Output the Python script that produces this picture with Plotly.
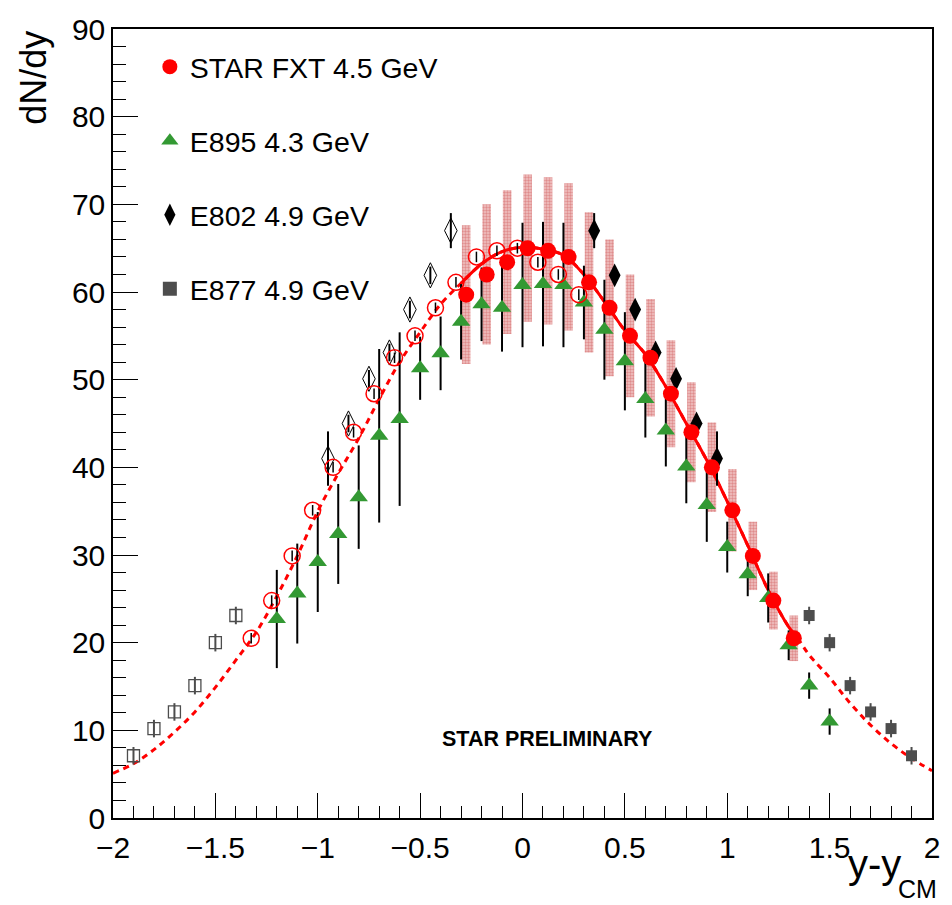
import plotly.graph_objects as go

# ---------------- data ----------------
star_x = [-0.275, -0.175, -0.075, 0.025, 0.125, 0.225, 0.325, 0.425, 0.525,
          0.625, 0.725, 0.825, 0.925, 1.025, 1.125, 1.225, 1.325]
star_y = [59.7, 62.0, 63.4, 65.0, 64.7, 64.0, 61.1, 58.2, 55.0,
          52.5, 48.4, 44.0, 40.0, 35.1, 29.9, 24.8, 20.5]
star_stat = [0.6, 0.6, 0.6, 0.6, 0.6, 0.6, 0.6, 0.6, 0.6,
             0.6, 0.6, 0.6, 0.6, 0.6, 0.6, 0.6, 0.6]
star_sys = [7.9, 8.0, 8.2, 8.4, 8.4, 8.4, 8.0, 7.8, 7.0,
            6.7, 6.1, 5.7, 5.1, 4.7, 3.9, 3.3, 2.6]

e895_x = [-1.2, -1.1, -1.0, -0.9, -0.8, -0.7, -0.6, -0.5, -0.4, -0.3, -0.2, -0.1,
          0.0, 0.1, 0.2, 0.3, 0.4, 0.5, 0.6, 0.7, 0.8, 0.9, 1.0, 1.1, 1.2, 1.3, 1.4, 1.5]
e895_y = [22.7, 25.6, 29.2, 32.4, 36.6, 43.6, 45.5, 51.3, 53.0, 56.6, 58.6, 58.2,
          60.8, 60.9, 60.8, 58.8, 55.7, 52.1, 47.8, 44.2, 40.1, 35.7, 30.9, 27.8,
          25.1, 19.7, 15.1, 11.0]
e895_err = [5.6, 5.7, 5.7, 5.7, 5.9, 9.9, 9.9, 3.6, 4.2, 4.3, 4.2, 5.0,
            7.1, 7.1, 7.1, 4.2, 5.7, 5.6, 4.4, 4.1, 4.2, 4.2, 2.9, 2.5,
            2.8, 1.7, 1.5, 1.5]

e802_x = [0.35, 0.45, 0.55, 0.65, 0.75, 0.85, 0.95]
e802_y = [67.0, 61.9, 58.0, 53.1, 50.1, 45.0, 41.0]
e802_err = [2.0, 1.0, 1.0, 1.0, 1.0, 1.0, 3.1]

e877_x = [1.4, 1.5, 1.6, 1.7, 1.8, 1.9]
e877_y = [23.1, 20.0, 15.1, 12.1, 10.2, 7.1]
e877_err = [1.0, 1.0, 1.0, 1.0, 1.0, 1.0]

# fit curve
fit_x = [-2.0, -1.9, -1.8, -1.7, -1.6, -1.5, -1.4, -1.3, -1.2, -1.1, -1.0,
         -0.9, -0.8, -0.7, -0.6, -0.5, -0.4, -0.3, -0.2, -0.1, 0.0,
         0.1, 0.2, 0.3, 0.4, 0.5, 0.6, 0.7, 0.8, 0.9, 1.0,
         1.1, 1.2, 1.3, 1.35, 1.4, 1.5, 1.6, 1.7, 1.8, 1.9, 2.0]
fit_y = [5.1, 6.2, 7.8, 9.8, 12.1, 14.9, 18.0, 21.2, 25.3, 29.9, 35.0,
         39.3, 43.3, 47.8, 52.0, 55.4, 58.6, 61.0, 63.2, 64.6, 65.1,
         64.9, 64.2, 62.0, 58.9, 55.6, 52.9, 49.2, 45.0, 40.8, 36.1,
         31.1, 26.0, 21.8, 20.3, 18.6, 16.0, 13.1, 10.6, 8.5, 6.8, 5.4]
fit_solid_range = [-0.3, 1.35]

legend_names = ["STAR FXT 4.5 GeV", "E895 4.3 GeV", "E802 4.9 GeV", "E877 4.9 GeV"]

RED = "#ff0000"
GREEN = "rgb(51,153,51)"
GREY = "rgb(77,77,77)"

# reflected (open) points
star_rx = [-v for v in star_x]
e802_rx = [-v for v in e802_x]
e877_rx = [-v for v in e877_x]

fig = go.Figure()

# systematic boxes
fig.add_trace(go.Bar(
    x=star_x, y=[2 * s for s in star_sys], base=[y - s for y, s in zip(star_y, star_sys)],
    width=0.042, showlegend=False,
    marker=dict(color="rgb(232,165,165)", line=dict(width=0),
                pattern=dict(shape=".", fgcolor="rgb(205,85,85)", bgcolor="rgb(240,195,195)",
                             size=3, solidity=0.5)),
    hoverinfo="skip"))

# fit: dashed full, solid within STAR range
fig.add_trace(go.Scatter(x=fit_x, y=fit_y, mode="lines", showlegend=False,
                         line=dict(color=RED, width=3, dash="6px,5px", shape="spline")))
sx = [x for x in fit_x if fit_solid_range[0] <= x <= fit_solid_range[1]]
sy = [y for x, y in zip(fit_x, fit_y) if fit_solid_range[0] <= x <= fit_solid_range[1]]
fig.add_trace(go.Scatter(x=sx, y=sy, mode="lines", showlegend=False,
                         line=dict(color=RED, width=3, shape="spline")))

# E877
fig.add_trace(go.Scatter(x=e877_x, y=e877_y, mode="markers", showlegend=False,
                         error_y=dict(type="data", array=e877_err, color=GREY, thickness=2, width=0),
                         marker=dict(symbol="square", size=11, color=GREY)))
fig.add_trace(go.Scatter(x=e877_rx, y=e877_y, mode="markers", showlegend=False,
                         error_y=dict(type="data", array=e877_err, color=GREY, thickness=2, width=0),
                         marker=dict(symbol="square-open", size=12, color=GREY, line=dict(width=1.3))))

# E802
fig.add_trace(go.Scatter(x=e802_x, y=e802_y, mode="markers", showlegend=False,
                         error_y=dict(type="data", array=e802_err, color="black", thickness=2, width=0),
                         marker=dict(symbol="diamond-tall", size=17, color="black")))
fig.add_trace(go.Scatter(x=e802_rx, y=e802_y, mode="markers", showlegend=False,
                         error_y=dict(type="data", array=e802_err, color="black", thickness=2, width=0),
                         marker=dict(symbol="diamond-tall-open", size=18, color="black",
                                     line=dict(width=1))))

# E895
fig.add_trace(go.Scatter(x=e895_x, y=e895_y, mode="markers", showlegend=False,
                         error_y=dict(type="data", array=e895_err, color="black", thickness=2, width=0),
                         marker=dict(symbol="triangle-up", size=16, color=GREEN)))

# STAR reflected open
fig.add_trace(go.Scatter(x=star_rx, y=star_y, mode="markers", showlegend=False,
                         error_y=dict(type="data", array=star_stat, color="black", thickness=1.5, width=0),
                         marker=dict(symbol="circle-open", size=16, color=RED, line=dict(width=1.5))))
# STAR filled
fig.add_trace(go.Scatter(x=star_x, y=star_y, mode="markers", showlegend=False,
                         error_y=dict(type="data", array=star_stat, color="black", thickness=1.5, width=0),
                         marker=dict(symbol="circle", size=16, color=RED)))

# legend entries
leg_styles = [dict(symbol="circle", size=15, color=RED),
              dict(symbol="triangle-up", size=15, color=GREEN),
              dict(symbol="diamond-tall", size=16, color="black"),
              dict(symbol="square", size=14, color=GREY)]
for i, (nm, ms) in enumerate(zip(legend_names, leg_styles)):
    fig.add_trace(go.Scatter(x=[None], y=[None], mode="markers", name=nm, marker=ms,
                             legendgroup=f"g{i}", showlegend=True))

FONT = "Liberation Sans, Arial, Helvetica, sans-serif"

axis_common = dict(showline=True, linecolor="black", linewidth=1.5, mirror=True,
                   ticks="inside", ticklen=25, tickwidth=1.2, tickcolor="black",
                   showgrid=False, zeroline=False, ticklabeloverflow="allow",
                   tickfont=dict(family=FONT, size=30, color="black"))

fig.update_xaxes(range=[-2, 2], dtick=0.5, tick0=0,
                 minor=dict(dtick=0.1, ticklen=12, ticks="inside", tickcolor="black", tickwidth=1.2),
                 ticklabelstandoff=2, **axis_common)
fig.update_yaxes(range=[0, 90], dtick=10, tick0=0,
                 minor=dict(dtick=2, ticklen=13, ticks="inside", tickcolor="black", tickwidth=1.2),
                 ticklabelstandoff=0, **axis_common)

fig.update_layout(
    width=952, height=905,
    margin=dict(l=113, r=16, t=16, b=87),
    paper_bgcolor="white", plot_bgcolor="white",
    barmode="overlay",
    font=dict(family=FONT, color="black"),
    legend=dict(x=0.045, y=0.984, xanchor="left", yanchor="top",
                font=dict(family=FONT, size=28.5, color="black"),
                bgcolor="rgba(0,0,0,0)", traceorder="grouped", tracegroupgap=34,
                itemsizing="trace"),
    annotations=[
        dict(text="dN/dy", xref="paper", yref="paper", x=-0.098, y=1.0,
             xanchor="center", yanchor="top", textangle=-90, showarrow=False,
             font=dict(family=FONT, size=36, color="black")),
        dict(text="y-y", xref="paper", yref="paper", x=0.965, y=-0.0586,
             xanchor="right", yanchor="middle", showarrow=False,
             font=dict(family=FONT, size=40, color="black")),
        dict(text="CM", xref="paper", yref="paper", x=1.009, y=-0.0895,
             xanchor="right", yanchor="middle", showarrow=False,
             font=dict(family=FONT, size=25, color="black")),
        dict(text="<b>STAR PRELIMINARY</b>", xref="paper", yref="paper", x=0.530, y=0.0998,
             xanchor="center", yanchor="middle", showarrow=False,
             font=dict(family=FONT, size=21.5, color="black")),
    ],
)

fig.write_html("out.html")
